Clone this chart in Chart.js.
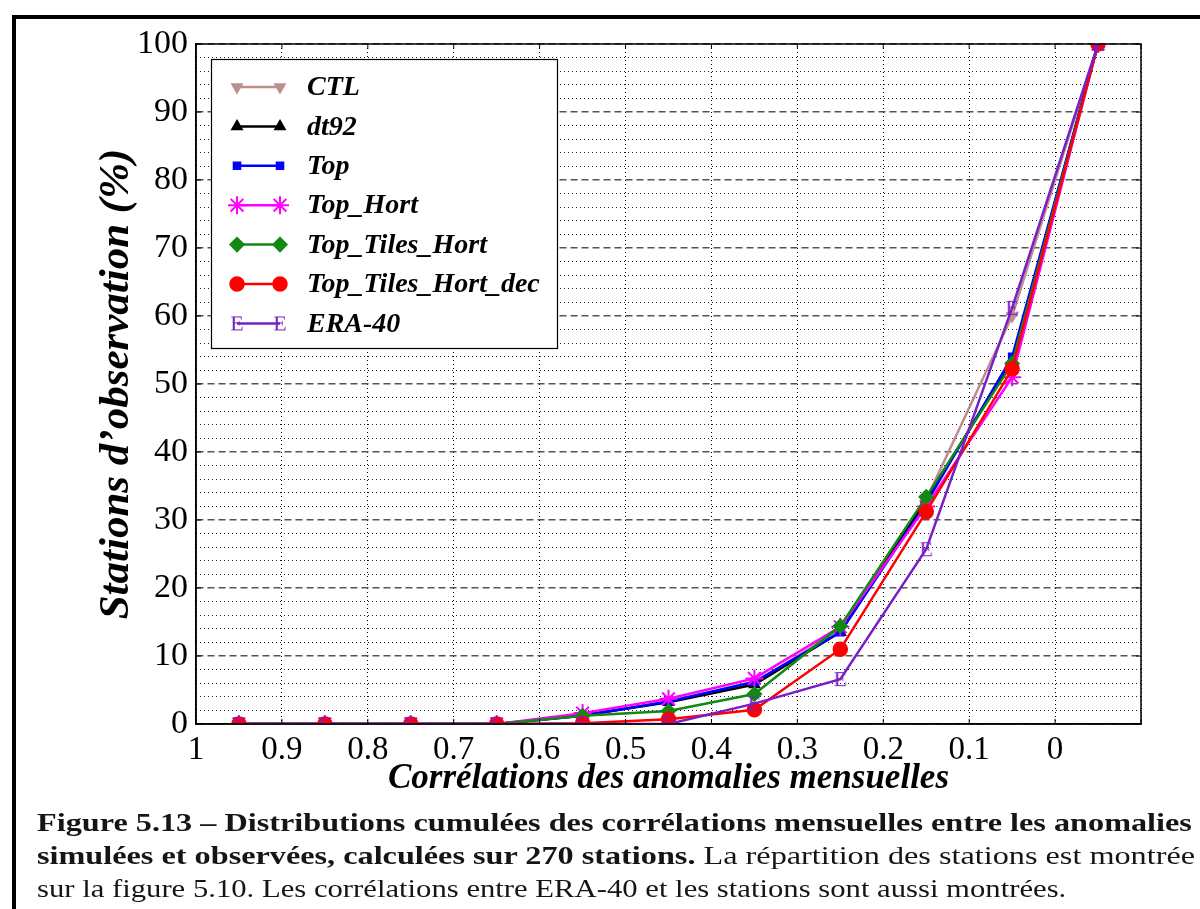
<!DOCTYPE html>
<html>
<head>
<meta charset="utf-8">
<script src="https://cdn.jsdelivr.net/npm/chart.js@4.4.0/dist/chart.umd.min.js"></script>
<style>
  html, body { margin: 0; padding: 0; background: #fff; width: 1200px; height: 909px; overflow: hidden; }
  #wrap { position: absolute; left: 0; top: 0; width: 1200px; height: 909px; }
  #frame { position: absolute; left: 12px; top: 15px; width: 1200px; height: 900px; border-left: 4px solid #000; border-top: 4px solid #000; }
  #caption { position: absolute; left: 37px; top: 806px; font-family: "Liberation Serif", serif; font-size: 26px; line-height: 33px; color: #151515; white-space: nowrap; }
  #caption div { transform-origin: 0 50%; }
  #cap1, #cap2 { transform: scaleX(1.24); }
  #cap3 { transform: scaleX(1.18); }
</style>
</head>
<body>
<div id="frame"></div>
<div id="wrap"><canvas id="chart-id"></canvas></div>
<div id="caption">
  <div id="cap1"><b>Figure 5.13 – Distributions cumulées des corrélations mensuelles entre les anomalies</b></div>
  <div id="cap2"><b>simulées et observées, calculées sur 270 stations.</b> La répartition des stations est montrée</div>
  <div id="cap3">sur la figure 5.10. Les corrélations entre ERA-40 et les stations sont aussi montrées.</div>
</div>
<script>
// Data //
const corrBins = [0.95, 0.85, 0.75, 0.65, 0.55, 0.45, 0.35, 0.25, 0.15, 0.05, -0.05];
const ctlValues = [0, 0, 0, 0, 1.2, 3.3, 6.0, 14.0, 33.0, 60.0, 100];
const dt92Values = [0, 0, 0, 0, 1.3, 3.2, 5.8, 13.5, 33.0, 53.5, 100];
const topValues = [0, 0, 0, 0, 1.2, 3.3, 6.2, 13.5, 32.5, 54.0, 100];
const topHortValues = [0, 0, 0, 0, 1.6, 3.7, 6.7, 14.3, 32.0, 51.0, 100];
const topTilesHortValues = [0, 0, 0, 0, 1.2, 1.9, 4.4, 14.4, 33.4, 53.0, 100];
const topTilesHortDecValues = [0, 0, 0, 0, 0.1, 0.7, 2.1, 11.0, 31.2, 52.2, 100];
const era40Values = [0, 0, 0, 0, 0, 0, 3.0, 6.6, 25.7, 61.2, 100];
const yTicks = [0, 10, 20, 30, 40, 50, 60, 70, 80, 90, 100];

const serif = "'Liberation Serif', 'Times New Roman', serif";

// letter E used as marker for ERA-40
function makeEMarker(color) {
    const c = document.createElement("canvas");
    c.width = 18;
    c.height = 22;
    const g = c.getContext("2d");
    g.fillStyle = color;
    g.font = "22px " + serif;
    g.textAlign = "center";
    g.textBaseline = "middle";
    g.fillText("E", 9, 12);
    return c;
}

function toPoints(values) {
    return corrBins.map((x, i) => ({ x: x, y: values[i] }));
}

function series(label, values, color, style, radius, order, extra) {
    return Object.assign({
        label: label,
        data: toPoints(values),
        borderColor: color,
        backgroundColor: color,
        pointBackgroundColor: color,
        pointBorderColor: color,
        borderWidth: 2.5,
        pointStyle: style,
        pointRadius: radius,
        pointBorderWidth: 1.5,
        tension: 0,
        order: order
    }, extra || {});
}

const eraMarker = makeEMarker("#7a1fc8");

const datasets = [
    series("CTL", ctlValues, "#bc8f8f", "triangle", 6, 6, { pointRotation: 180 }),
    series("dt92", dt92Values, "#000000", "triangle", 6, 5),
    series("Top", topValues, "#0000ff", "rect", 5, 4),
    series("Top_Hort", topHortValues, "#ff00ff", "star", 9, 3, { pointBorderWidth: 2 }),
    series("Top_Tiles_Hort", topTilesHortValues, "#128a12", "rectRot", 7, 2),
    series("Top_Tiles_Hort_dec", topTilesHortDecValues, "#ff0000", "circle", 7, 1),
    series("ERA-40", era40Values, "#7a1fc8", eraMarker, 9, 0)
];

// legend box inside the plot, drawn from the datasets
const legendBox = {
    id: "legendBox",
    afterDatasetsDraw(chart) {
        const ctx = chart.ctx;
        const a = chart.chartArea;
        const x0 = a.left + 15, y0 = a.top + 15, w = 346, h = 289;
        ctx.save();
        ctx.fillStyle = "#fff";
        ctx.fillRect(x0, y0, w, h);
        ctx.strokeStyle = "#000";
        ctx.lineWidth = 1.2;
        ctx.strokeRect(x0 + 0.5, y0 + 0.5, w, h);
        chart.data.datasets.forEach((ds, i) => {
            const y = y0 + 28 + i * 39.4;
            const xa = x0 + 26, xb = x0 + 69;
            ctx.strokeStyle = ds.borderColor;
            ctx.lineWidth = 2.5;
            ctx.beginPath();
            ctx.moveTo(xa, y);
            ctx.lineTo(xb, y);
            ctx.stroke();
            if (Chart.helpers && Chart.helpers.drawPoint) {
                ctx.fillStyle = ds.pointBackgroundColor;
                ctx.strokeStyle = ds.pointBorderColor;
                ctx.lineWidth = ds.pointBorderWidth;
                [xa, xb].forEach(px => {
                    Chart.helpers.drawPoint(ctx, {
                        pointStyle: ds.pointStyle,
                        rotation: ds.pointRotation || 0,
                        radius: ds.pointRadius,
                        borderWidth: ds.pointBorderWidth
                    }, px, y);
                });
            }
            ctx.fillStyle = "#000";
            ctx.font = "italic bold 28px " + serif;
            ctx.textAlign = "left";
            ctx.textBaseline = "middle";
            ctx.fillText(ds.label, x0 + 96, y + 1);
        });
        ctx.restore();
    }
};

// plot frame + small inward ticks
const plotFrame = {
    id: "plotFrame",
    afterDraw(chart) {
        const ctx = chart.ctx;
        const a = chart.chartArea;
        ctx.save();
        ctx.strokeStyle = "#000";
        ctx.lineWidth = 1.5;
        ctx.strokeRect(a.left, a.top, a.right - a.left, a.bottom - a.top);
        ctx.lineWidth = 1;
        chart.scales.x.ticks.forEach(t => {
            const px = chart.scales.x.getPixelForValue(t.value);
            ctx.beginPath();
            ctx.moveTo(px, a.bottom); ctx.lineTo(px, a.bottom - 5);
            ctx.moveTo(px, a.top); ctx.lineTo(px, a.top + 5);
            ctx.stroke();
        });
        chart.scales.y.ticks.forEach(t => {
            const py = chart.scales.y.getPixelForValue(t.value);
            ctx.beginPath();
            ctx.moveTo(a.left, py); ctx.lineTo(a.left + 5, py);
            ctx.moveTo(a.right, py); ctx.lineTo(a.right - 5, py);
            ctx.stroke();
        });
        ctx.restore();
    }
};

const canvas2D = document.getElementById("chart-id").getContext("2d");

const myChart = new Chart(canvas2D, {
    type: "line",
    data: { datasets: datasets },
    options: {
        responsive: true,
        maintainAspectRatio: false,
        animation: false,
        layout: { padding: { left: 0, top: 44, right: 59, bottom: 111 } },
        plugins: {
            legend: { display: false },
            tooltip: { enabled: false }
        },
        scales: {
            x: {
                type: "linear",
                min: -0.1,
                max: 1,
                reverse: true,
                ticks: {
                    stepSize: 0.1,
                    autoSkip: false,
                    maxRotation: 0,
                    padding: 10,
                    color: "#000",
                    font: { family: serif, size: 33, lineHeight: 1 },
                    callback: v => (v < -0.05 ? "" : String(Math.round(v * 10) / 10))
                },
                grid: { color: "#000", lineWidth: 1, drawTicks: false },
                border: { display: true, color: "#000", width: 1.5, dash: [1, 3] },
                title: {
                    display: true,
                    text: "Corrélations des anomalies mensuelles",
                    color: "#000",
                    font: { family: serif, size: 35, style: "italic", weight: "bold", lineHeight: 1 },
                    padding: { top: 0, bottom: 2 }
                },
                afterFit(s) { s.height = 74; }
            },
            y: {
                min: 0,
                max: 100,
                afterBuildTicks(s) { s.ticks = yTicks.map(v => ({ value: v })); },
                ticks: {
                    padding: 8,
                    color: "#000",
                    font: { family: serif, size: 34, lineHeight: 1 }
                },
                grid: { color: "#555", lineWidth: 1.5, drawTicks: false },
                border: { display: true, color: "#000", width: 1.5, dash: [7, 4] },
                title: {
                    display: true,
                    text: "Stations d’observation (%)",
                    color: "#000",
                    font: { family: serif, size: 43, style: "italic", weight: "bold", lineHeight: 1 },
                    padding: { top: 95, bottom: 0 }
                },
                afterFit(s) { s.width = 196; }
            },
            yMinor: {
                position: "right",
                min: 0,
                max: 100,
                ticks: { display: false, stepSize: 2 },
                grid: {
                    color: c => (Math.round(c.tick.value) % 10 === 0 ? "rgba(0,0,0,0)" : "#222"),
                    lineWidth: 1,
                    drawTicks: false
                },
                border: { display: false, dash: [1, 3] },
                afterFit(s) { s.width = 0; }
            }
        }
    },
    plugins: [legendBox, plotFrame]
});
</script>
</body>
</html>
